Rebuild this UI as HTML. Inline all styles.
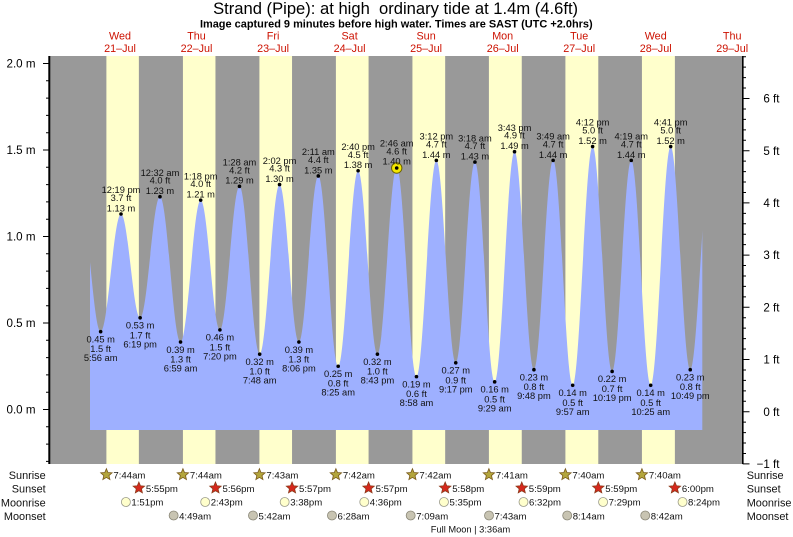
<!DOCTYPE html>
<html><head><meta charset="utf-8"><style>
html,body{margin:0;padding:0;background:#fff;}
svg{display:block;}
text{font-family:"Liberation Sans",Arial,Helvetica,sans-serif;}
</style></head><body>
<svg xmlns="http://www.w3.org/2000/svg" width="793" height="537" viewBox="0 0 793 537">
<defs>
<clipPath id="tc"><rect x="90" y="0" width="612.3" height="537"/></clipPath>
<path id="star" d="M0,-6 L1.6,-2.2 L5.71,-1.85 L2.6,0.85 L3.53,4.85 L0,2.75 L-3.53,4.85 L-2.6,0.85 L-5.71,-1.85 L-1.6,-2.2 Z"/>
</defs>
<rect width="793" height="537" fill="#fff"/>
<!-- title -->
<text x="395.6" y="14" font-size="16.5" text-anchor="middle" fill="#000" textLength="365" lengthAdjust="spacingAndGlyphs" xml:space="preserve">Strand (Pipe): at high  ordinary tide at 1.4m (4.6ft)</text>
<text x="396.3" y="27.6" font-size="11" font-weight="bold" text-anchor="middle" fill="#000" textLength="392.7" lengthAdjust="spacingAndGlyphs">Image captured 9 minutes before high water. Times are SAST (UTC +2.0hrs)</text>
<!-- day labels -->
<g font-size="10.8" fill="#cc1100" text-anchor="middle">
<text x="120" y="39.6">Wed</text><text x="120" y="52.2">21–Jul</text>
<text x="196.5" y="39.6">Thu</text><text x="196.5" y="52.2">22–Jul</text>
<text x="273.1" y="39.6">Fri</text><text x="273.1" y="52.2">23–Jul</text>
<text x="349.6" y="39.6">Sat</text><text x="349.6" y="52.2">24–Jul</text>
<text x="426.1" y="39.6">Sun</text><text x="426.1" y="52.2">25–Jul</text>
<text x="502.7" y="39.6">Mon</text><text x="502.7" y="52.2">26–Jul</text>
<text x="579.2" y="39.6">Tue</text><text x="579.2" y="52.2">27–Jul</text>
<text x="655.7" y="39.6">Wed</text><text x="655.7" y="52.2">28–Jul</text>
<text x="732.2" y="39.6">Thu</text><text x="732.2" y="52.2">29–Jul</text>
</g>
<!-- plot background -->
<rect x="49" y="56" width="694" height="408" fill="#999999"/>
<g fill="#ffffcc">
<rect x="106.39" y="56" width="32.48" height="408"/>
<rect x="182.93" y="56" width="32.53" height="408"/>
<rect x="259.41" y="56" width="32.63" height="408"/>
<rect x="335.90" y="56" width="32.68" height="408"/>
<rect x="412.43" y="56" width="32.74" height="408"/>
<rect x="488.91" y="56" width="32.85" height="408"/>
<rect x="565.40" y="56" width="32.89" height="408"/>
<rect x="641.93" y="56" width="32.95" height="408"/>
</g>
<!-- tide fill -->
<path clip-path="url(#tc)" fill="#9eb0ff" d="M81.19,210.55
C88.26,210.55 93.58,331.65 100.65,331.65
C108.05,331.65 113.61,214.01 121.01,214.01
C127.96,214.01 133.19,317.81 140.14,317.81
C147.35,317.81 152.76,196.71 159.97,196.71
C167.45,196.71 173.06,342.03 180.54,342.03
C187.86,342.03 193.36,200.17 200.68,200.17
C207.67,200.17 212.93,329.92 219.92,329.92
C227.03,329.92 232.37,186.33 239.48,186.33
C246.82,186.33 252.34,354.14 259.68,354.14
C266.90,354.14 272.33,184.6 279.55,184.6
C286.58,184.6 291.87,342.03 298.90,342.03
C305.95,342.03 311.25,175.95 318.30,175.95
C325.52,175.95 330.96,366.25 338.18,366.25
C345.42,366.25 350.87,170.76 358.11,170.76
C365.12,170.76 370.39,354.14 377.40,354.14
C384.41,354.14 389.69,167.3 396.70,167.3
C403.88,167.3 409.29,376.63 416.47,376.63
C423.69,376.63 429.13,160.38 436.35,160.38
C443.40,160.38 448.70,362.79 455.75,362.79
C462.72,362.79 467.96,162.11 474.93,162.11
C482.10,162.11 487.48,381.82 494.65,381.82
C501.87,381.82 507.31,151.73 514.53,151.73
C521.58,151.73 526.88,369.71 533.93,369.71
C540.90,369.71 546.15,160.38 553.12,160.38
C560.23,160.38 565.57,385.28 572.68,385.28
C579.92,385.28 585.37,146.54 592.61,146.54
C599.70,146.54 605.03,371.44 612.12,371.44
C619.07,371.44 624.30,160.38 631.25,160.38
C638.32,160.38 643.63,385.28 650.70,385.28
C657.96,385.28 663.42,146.54 670.68,146.54
C677.79,146.54 683.14,369.71 690.25,369.71
C697.61,369.71 703.15,158.65 710.51,158.65
L710.51,430 L81.19,430 Z"/>
<!-- axes -->
<line x1="49.3" y1="56" x2="49.3" y2="464" stroke="#000" stroke-width="2"/>
<line x1="742.8" y1="56" x2="742.8" y2="464" stroke="#000" stroke-width="1.6"/>
<path stroke="#000" stroke-width="1" fill="none" d="
M43,63.5H49 M43,150H49 M43,236.5H49 M43,323H49 M43,409.5H49
M46,461.4H49 M46,444.1H49 M46,426.8H49 M46,392.2H49 M46,374.9H49 M46,357.6H49 M46,340.3H49
M46,305.7H49 M46,288.4H49 M46,271.1H49 M46,253.8H49 M46,219.2H49 M46,201.9H49 M46,184.6H49 M46,167.3H49
M46,132.7H49 M46,115.4H49 M46,98.1H49 M46,80.8H49
M742.7,463.9H749.5 M742.7,411.7H749.5 M742.7,359.5H749.5 M742.7,307.3H749.5 M742.7,255.1H749.5 M742.7,202.9H749.5 M742.7,150.7H749.5 M742.7,98.5H749.5
M742.7,453.46H746 M742.7,443.02H746 M742.7,432.58H746 M742.7,422.14H746
M742.7,401.26H746 M742.7,390.82H746 M742.7,380.38H746 M742.7,369.94H746
M742.7,349.06H746 M742.7,338.62H746 M742.7,328.18H746 M742.7,317.74H746
M742.7,296.86H746 M742.7,286.42H746 M742.7,275.98H746 M742.7,265.54H746
M742.7,244.66H746 M742.7,234.22H746 M742.7,223.78H746 M742.7,213.34H746
M742.7,192.46H746 M742.7,182.02H746 M742.7,171.58H746 M742.7,161.14H746
M742.7,140.26H746 M742.7,129.82H746 M742.7,119.38H746 M742.7,108.94H746
M742.7,88.06H746 M742.7,77.62H746 M742.7,67.18H746 M742.7,56.74H746"/>
<g font-size="11.6" fill="#000" text-anchor="end">
<text x="35.5" y="67.6">2.0 m</text>
<text x="35.5" y="154.1">1.5 m</text>
<text x="35.5" y="240.6">1.0 m</text>
<text x="35.5" y="327.1">0.5 m</text>
<text x="35.5" y="413.6">0.0 m</text>
<text x="779.5" y="102.6">6 ft</text>
<text x="779.5" y="154.8">5 ft</text>
<text x="779.5" y="207">4 ft</text>
<text x="779.5" y="259.2">3 ft</text>
<text x="779.5" y="311.4">2 ft</text>
<text x="779.5" y="363.6">1 ft</text>
<text x="779.5" y="415.8">0 ft</text>
<text x="779.5" y="468">−1 ft</text>
</g>
<!-- highlight current -->
<circle cx="396.7" cy="168" r="5.2" fill="#f4e800" stroke="#6b6000" stroke-width="1"/>
<!-- dots -->
<g fill="#000">
<circle cx="100.65" cy="331.65" r="1.8"/><circle cx="121.01" cy="214.01" r="1.8"/>
<circle cx="140.14" cy="317.81" r="1.8"/><circle cx="159.97" cy="196.71" r="1.8"/>
<circle cx="180.54" cy="342.03" r="1.8"/><circle cx="200.68" cy="200.17" r="1.8"/>
<circle cx="219.92" cy="329.92" r="1.8"/><circle cx="239.48" cy="186.33" r="1.8"/>
<circle cx="259.68" cy="354.14" r="1.8"/><circle cx="279.55" cy="184.6" r="1.8"/>
<circle cx="298.90" cy="342.03" r="1.8"/><circle cx="318.30" cy="175.95" r="1.8"/>
<circle cx="338.18" cy="366.25" r="1.8"/><circle cx="358.11" cy="170.76" r="1.8"/>
<circle cx="377.40" cy="354.14" r="1.8"/><circle cx="396.70" cy="168" r="1.8"/>
<circle cx="416.47" cy="376.63" r="1.8"/><circle cx="436.35" cy="160.38" r="1.8"/>
<circle cx="455.75" cy="362.79" r="1.8"/><circle cx="474.93" cy="162.11" r="1.8"/>
<circle cx="494.65" cy="381.82" r="1.8"/><circle cx="514.53" cy="151.73" r="1.8"/>
<circle cx="533.93" cy="369.71" r="1.8"/><circle cx="553.12" cy="160.38" r="1.8"/>
<circle cx="572.68" cy="385.28" r="1.8"/><circle cx="592.61" cy="146.54" r="1.8"/>
<circle cx="612.12" cy="371.44" r="1.8"/><circle cx="631.25" cy="160.38" r="1.8"/>
<circle cx="650.70" cy="385.28" r="1.8"/><circle cx="670.68" cy="146.54" r="1.8"/>
<circle cx="690.25" cy="369.71" r="1.8"/>
</g>
<!-- high labels -->
<g font-size="9.3" fill="#111" text-anchor="middle">
<text x="121.01"><tspan x="121.01" y="193.2">12:19 pm</tspan><tspan x="121.01" y="201">3.7 ft</tspan><tspan x="121.01" y="211.4">1.13 m</tspan></text>
<text x="159.97"><tspan x="159.97" y="175.9">12:32 am</tspan><tspan x="159.97" y="183.7">4.0 ft</tspan><tspan x="159.97" y="194.1">1.23 m</tspan></text>
<text x="200.68"><tspan x="200.68" y="179.4">1:18 pm</tspan><tspan x="200.68" y="187.2">4.0 ft</tspan><tspan x="200.68" y="197.6">1.21 m</tspan></text>
<text x="239.48"><tspan x="239.48" y="165.5">1:28 am</tspan><tspan x="239.48" y="173.3">4.2 ft</tspan><tspan x="239.48" y="183.7">1.29 m</tspan></text>
<text x="279.55"><tspan x="279.55" y="163.8">2:02 pm</tspan><tspan x="279.55" y="171.6">4.3 ft</tspan><tspan x="279.55" y="182">1.30 m</tspan></text>
<text x="318.30"><tspan x="318.30" y="155.2">2:11 am</tspan><tspan x="318.30" y="163">4.4 ft</tspan><tspan x="318.30" y="173.4">1.35 m</tspan></text>
<text x="358.11"><tspan x="358.11" y="150">2:40 pm</tspan><tspan x="358.11" y="157.8">4.5 ft</tspan><tspan x="358.11" y="168.2">1.38 m</tspan></text>
<text x="396.70"><tspan x="396.70" y="146.5">2:46 am</tspan><tspan x="396.70" y="154.3">4.6 ft</tspan><tspan x="396.70" y="164.7">1.40 m</tspan></text>
<text x="436.35"><tspan x="436.35" y="139.6">3:12 pm</tspan><tspan x="436.35" y="147.4">4.7 ft</tspan><tspan x="436.35" y="157.8">1.44 m</tspan></text>
<text x="474.93"><tspan x="474.93" y="141.3">3:18 am</tspan><tspan x="474.93" y="149.1">4.7 ft</tspan><tspan x="474.93" y="159.5">1.43 m</tspan></text>
<text x="514.53"><tspan x="514.53" y="130.9">3:43 pm</tspan><tspan x="514.53" y="138.7">4.9 ft</tspan><tspan x="514.53" y="149.1">1.49 m</tspan></text>
<text x="553.12"><tspan x="553.12" y="139.6">3:49 am</tspan><tspan x="553.12" y="147.4">4.7 ft</tspan><tspan x="553.12" y="157.8">1.44 m</tspan></text>
<text x="592.61"><tspan x="592.61" y="125.7">4:12 pm</tspan><tspan x="592.61" y="133.5">5.0 ft</tspan><tspan x="592.61" y="143.9">1.52 m</tspan></text>
<text x="631.25"><tspan x="631.25" y="139.6">4:19 am</tspan><tspan x="631.25" y="147.4">4.7 ft</tspan><tspan x="631.25" y="157.8">1.44 m</tspan></text>
<text x="670.68"><tspan x="670.68" y="125.7">4:41 pm</tspan><tspan x="670.68" y="133.5">5.0 ft</tspan><tspan x="670.68" y="143.9">1.52 m</tspan></text>
</g>
<!-- low labels -->
<g font-size="9.3" fill="#111" text-anchor="middle">
<text x="100.65"><tspan x="100.65" y="342.5">0.45 m</tspan><tspan x="100.65" y="352.2">1.5 ft</tspan><tspan x="100.65" y="361.2">5:56 am</tspan></text>
<text x="140.14"><tspan x="140.14" y="328.6">0.53 m</tspan><tspan x="140.14" y="338.3">1.7 ft</tspan><tspan x="140.14" y="347.3">6:19 pm</tspan></text>
<text x="180.54"><tspan x="180.54" y="352.8">0.39 m</tspan><tspan x="180.54" y="362.5">1.3 ft</tspan><tspan x="180.54" y="371.5">6:59 am</tspan></text>
<text x="219.92"><tspan x="219.92" y="340.7">0.46 m</tspan><tspan x="219.92" y="350.4">1.5 ft</tspan><tspan x="219.92" y="359.4">7:20 pm</tspan></text>
<text x="259.68"><tspan x="259.68" y="364.9">0.32 m</tspan><tspan x="259.68" y="374.6">1.0 ft</tspan><tspan x="259.68" y="383.6">7:48 am</tspan></text>
<text x="298.90"><tspan x="298.90" y="352.8">0.39 m</tspan><tspan x="298.90" y="362.5">1.3 ft</tspan><tspan x="298.90" y="371.5">8:06 pm</tspan></text>
<text x="338.18"><tspan x="338.18" y="377">0.25 m</tspan><tspan x="338.18" y="386.7">0.8 ft</tspan><tspan x="338.18" y="395.7">8:25 am</tspan></text>
<text x="377.40"><tspan x="377.40" y="364.9">0.32 m</tspan><tspan x="377.40" y="374.6">1.0 ft</tspan><tspan x="377.40" y="383.6">8:43 pm</tspan></text>
<text x="416.47"><tspan x="416.47" y="387.4">0.19 m</tspan><tspan x="416.47" y="397.1">0.6 ft</tspan><tspan x="416.47" y="406.1">8:58 am</tspan></text>
<text x="455.75"><tspan x="455.75" y="373.6">0.27 m</tspan><tspan x="455.75" y="383.3">0.9 ft</tspan><tspan x="455.75" y="392.3">9:17 pm</tspan></text>
<text x="494.65"><tspan x="494.65" y="392.6">0.16 m</tspan><tspan x="494.65" y="402.3">0.5 ft</tspan><tspan x="494.65" y="411.3">9:29 am</tspan></text>
<text x="533.93"><tspan x="533.93" y="380.5">0.23 m</tspan><tspan x="533.93" y="390.2">0.8 ft</tspan><tspan x="533.93" y="399.2">9:48 pm</tspan></text>
<text x="572.68"><tspan x="572.68" y="396.1">0.14 m</tspan><tspan x="572.68" y="405.8">0.5 ft</tspan><tspan x="572.68" y="414.8">9:57 am</tspan></text>
<text x="612.12"><tspan x="612.12" y="382.2">0.22 m</tspan><tspan x="612.12" y="391.9">0.7 ft</tspan><tspan x="612.12" y="400.9">10:19 pm</tspan></text>
<text x="650.70"><tspan x="650.70" y="396.1">0.14 m</tspan><tspan x="650.70" y="405.8">0.5 ft</tspan><tspan x="650.70" y="414.8">10:25 am</tspan></text>
<text x="690.25"><tspan x="690.25" y="380.5">0.23 m</tspan><tspan x="690.25" y="390.2">0.8 ft</tspan><tspan x="690.25" y="399.2">10:49 pm</tspan></text>
</g>
<!-- bottom row labels -->
<g font-size="10.9" fill="#111">
<text x="45.7" y="479.2" text-anchor="end">Sunrise</text>
<text x="45.7" y="492.6" text-anchor="end">Sunset</text>
<text x="45.7" y="506.6" text-anchor="end">Moonrise</text>
<text x="45.7" y="519.9" text-anchor="end">Moonset</text>
<text x="746.7" y="479.2">Sunrise</text>
<text x="746.7" y="492.6">Sunset</text>
<text x="746.7" y="506.6">Moonrise</text>
<text x="746.7" y="519.9">Moonset</text>
</g>
<!-- sunrise stars -->
<g fill="#b3a53c" stroke="#7a5a1a" stroke-width="0.8">
<use href="#star" x="106.39" y="474.7"/><use href="#star" x="182.93" y="474.7"/>
<use href="#star" x="259.41" y="474.7"/><use href="#star" x="335.90" y="474.7"/>
<use href="#star" x="412.43" y="474.7"/><use href="#star" x="488.91" y="474.7"/>
<use href="#star" x="565.40" y="474.7"/><use href="#star" x="641.93" y="474.7"/>
</g>
<g fill="#d6281c" stroke="#8b3a1a" stroke-width="0.8">
<use href="#star" x="138.87" y="488"/><use href="#star" x="215.46" y="488"/>
<use href="#star" x="292.04" y="488"/><use href="#star" x="368.58" y="488"/>
<use href="#star" x="445.17" y="488"/><use href="#star" x="521.76" y="488"/>
<use href="#star" x="598.29" y="488"/><use href="#star" x="674.88" y="488"/>
</g>
<g fill="#ffffcc" stroke="#9a9a8a" stroke-width="0.8">
<circle cx="125.9" cy="502" r="4.5"/><circle cx="205.2" cy="502" r="4.5"/>
<circle cx="284.66" cy="502" r="4.5"/><circle cx="364.28" cy="502" r="4.5"/>
<circle cx="443.95" cy="502" r="4.5"/><circle cx="523.51" cy="502" r="4.5"/>
<circle cx="603.08" cy="502" r="4.5"/><circle cx="682.54" cy="502" r="4.5"/>
</g>
<g fill="#c8c4b2" stroke="#8a8778" stroke-width="0.8">
<circle cx="173.63" cy="515.5" r="4.5"/><circle cx="252.98" cy="515.5" r="4.5"/>
<circle cx="331.96" cy="515.5" r="4.5"/><circle cx="410.68" cy="515.5" r="4.5"/>
<circle cx="489.02" cy="515.5" r="4.5"/><circle cx="567.2" cy="515.5" r="4.5"/>
<circle cx="645.23" cy="515.5" r="4.5"/>
</g>
<g font-size="9.6" fill="#111">
<text x="113.4" y="478.7">7:44am</text><text x="189.9" y="478.7">7:44am</text>
<text x="266.4" y="478.7">7:43am</text><text x="342.9" y="478.7">7:42am</text>
<text x="419.4" y="478.7">7:42am</text><text x="495.9" y="478.7">7:41am</text>
<text x="572.4" y="478.7">7:40am</text><text x="648.9" y="478.7">7:40am</text>
<text x="145.9" y="492.1">5:55pm</text><text x="222.5" y="492.1">5:56pm</text>
<text x="299" y="492.1">5:57pm</text><text x="375.6" y="492.1">5:57pm</text>
<text x="452.2" y="492.1">5:58pm</text><text x="528.8" y="492.1">5:59pm</text>
<text x="605.3" y="492.1">5:59pm</text><text x="681.9" y="492.1">6:00pm</text>
<text x="131.4" y="505.7">1:51pm</text><text x="210.7" y="505.7">2:43pm</text>
<text x="290.2" y="505.7">3:38pm</text><text x="369.8" y="505.7">4:36pm</text>
<text x="449.5" y="505.7">5:35pm</text><text x="529" y="505.7">6:32pm</text>
<text x="608.6" y="505.7">7:29pm</text><text x="688" y="505.7">8:24pm</text>
<text x="179.1" y="519.3">4:49am</text><text x="258.5" y="519.3">5:42am</text>
<text x="337.5" y="519.3">6:28am</text><text x="416.2" y="519.3">7:09am</text>
<text x="494.5" y="519.3">7:43am</text><text x="572.7" y="519.3">8:14am</text>
<text x="650.7" y="519.3">8:42am</text>
</g>
<text x="470.5" y="532.4" font-size="9.3" fill="#111" text-anchor="middle">Full Moon | 3:36am</text>
</svg>
</body></html>
